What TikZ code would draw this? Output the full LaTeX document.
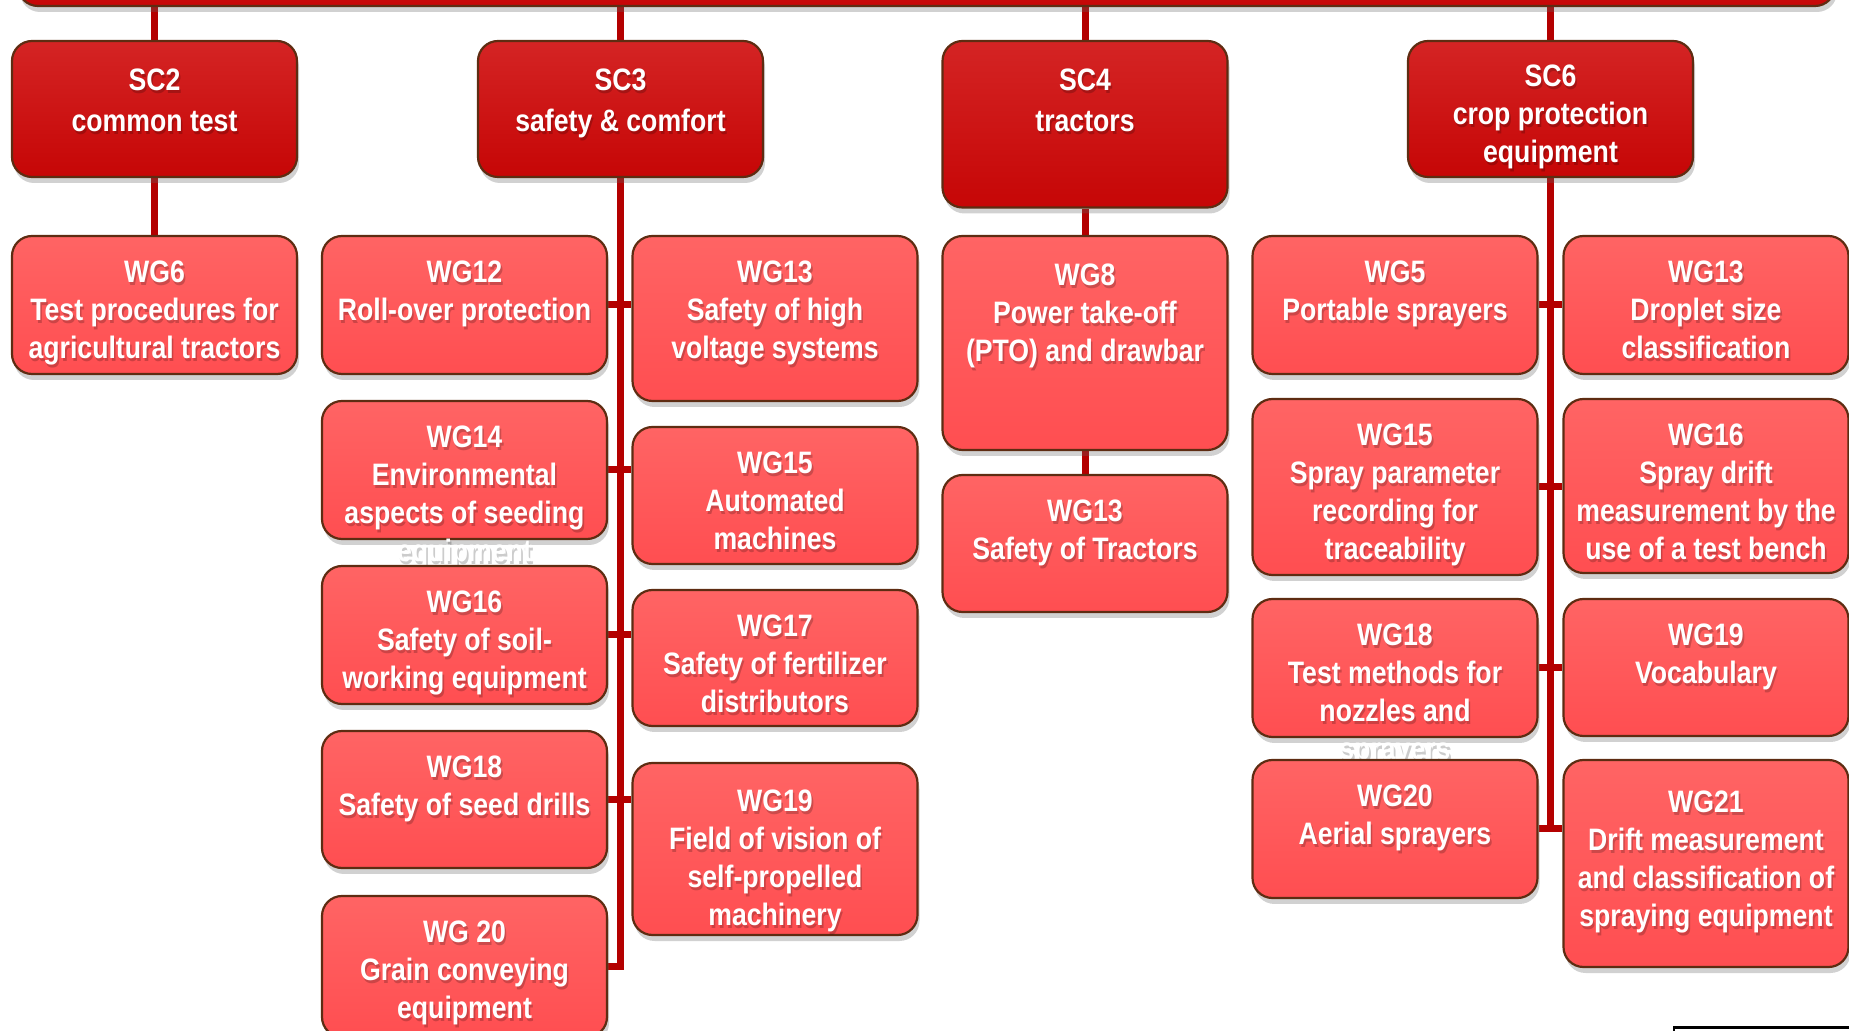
\documentclass[tikz,border=0pt]{standalone}
\usepackage{fontspec}
\setmainfont{Liberation Sans}[FakeStretch=0.86]
\usepackage{xcolor}
\usetikzlibrary{positioning, shadows, backgrounds}

\definecolor{screddark}{HTML}{C60606}
\definecolor{scredtop}{HTML}{D42424}
\definecolor{wgred}{HTML}{FF4E51}
\definecolor{wgredtop}{HTML}{FF6464}
\definecolor{rimbrown}{HTML}{5E2C12}
\definecolor{linkred}{HTML}{B40000}

% box with its text hung from the top edge
\newcommand{\orgbox}[7][13pt]{%
  \node[#2, minimum height={(#6-#5)*0.5pt}] (#3) at (#4,{(#5+#6)/2}) {};
  \node[boxshade, below=#1 of #3.north, xshift=0.8pt, yshift=-1.2pt] (#3-shade) {#7};
  \node[boxtext, below=#1 of #3.north] (#3-text) {#7};
}

\begin{document}
\begin{tikzpicture}[x=0.5pt, y=-0.5pt,
  orgbase/.style={rounded corners=10pt, draw=rimbrown, line width=1.1pt,
    minimum width=142.5pt, inner sep=0pt,
    drop shadow={shadow xshift=1pt, shadow yshift=-3pt, opacity=0.3, fill=black!60}},
  scbox/.style={orgbase, top color=scredtop, bottom color=screddark},
  wgbox/.style={orgbase, top color=wgredtop, bottom color=wgred},
  boxtext/.style={text=white, font=\fontsize{15.5}{19}\selectfont\bfseries,
    align=center, inner sep=0pt},
  boxshade/.style={boxtext, text=black, opacity=0.2},
  link/.style={draw=linkred, line width=3.5pt},
]
  \useasboundingbox (0,0) rectangle (1849,1031);
  \clip (0,0) rectangle (1849,1031);

  % top bar, cut by the page edge
  \node[scbox, minimum width=908.5pt, minimum height=40pt] (cen) at (926.5,-34) {};

  % sub-committees
  \orgbox[14.5pt]{scbox}{sc2}{154.5}{41}{177}{SC2\\[1.5pt]common test}
  \orgbox[14.5pt]{scbox}{sc3}{620.5}{41}{177}{SC3\\[1.5pt]safety \& comfort}
  \orgbox[14.5pt]{scbox}{sc4}{1085}{41}{207.5}{SC4\\[1.5pt]tractors}
  \orgbox[12.5pt]{scbox}{sc6}{1550.5}{41}{177}{SC6\\crop protection\\equipment}

  % SC2
  \orgbox{wgbox}{wg6}{154.5}{236}{374}{WG6\\Test procedures for\\agricultural tractors}

  % SC3
  \orgbox{wgbox}{wg12}{464.5}{236}{374}{WG12\\Roll-over protection}
  \orgbox{wgbox}{wg13s}{775}{236}{401}{WG13\\Safety of high\\voltage systems}
  \orgbox{wgbox}{wg14}{464.5}{401}{539}{WG14\\Environmental\\aspects of seeding\\equipment}
  \orgbox{wgbox}{wg15s}{775}{427}{564}{WG15\\Automated\\machines}
  \orgbox{wgbox}{wg16s}{464.5}{566}{704}{WG16\\Safety of soil-\\working equipment}
  \orgbox{wgbox}{wg17}{775}{590}{726}{WG17\\Safety of fertilizer\\distributors}
  \orgbox{wgbox}{wg18s}{464.5}{731}{868}{WG18\\Safety of seed drills}
  \orgbox[14pt]{wgbox}{wg19s}{775}{763}{935}{WG19\\Field of vision of\\self-propelled\\machinery}
  \orgbox{wgbox}{wg20s}{464.5}{896}{1037}{WG 20\\Grain conveying\\equipment}

  % SC4
  \orgbox[14.5pt]{wgbox}{wg8}{1085}{236}{450}{WG8\\Power take-off\\(PTO) and drawbar}
  \orgbox{wgbox}{wg13t}{1085}{475}{612}{WG13\\Safety of Tractors}

  % SC6
  \orgbox{wgbox}{wg5}{1395}{236}{374}{WG5\\Portable sprayers}
  \orgbox{wgbox}{wg13d}{1706}{236}{374}{WG13\\Droplet size\\classification}
  \orgbox{wgbox}{wg15c}{1395}{399}{575}{WG15\\Spray parameter\\recording for\\traceability}
  \orgbox{wgbox}{wg16c}{1706}{399}{573}{WG16\\Spray drift\\measurement by the\\use of a test bench}
  \orgbox{wgbox}{wg18c}{1395}{599}{737}{WG18\\Test methods for\\nozzles and\\sprayers}
  \orgbox{wgbox}{wg19c}{1706}{599}{736}{WG19\\Vocabulary}
  \orgbox{wgbox}{wg20c}{1395}{760}{898}{WG20\\Aerial sprayers}
  \orgbox[16pt]{wgbox}{wg21}{1706}{760}{967}{WG21\\Drift measurement\\and classification of\\spraying equipment}

  % connectors
  \begin{scope}[on background layer]
    \foreach \cname in {sc2,sc3,sc4,sc6}
      \draw[link] (\cname.north) -- (\cname.north |- cen.south);
    \draw[link] (sc2.south) -- (wg6.north);
    \draw[link] (sc3.south) -- (sc3.south |- wg20s.east) -- (wg20s.east);
    \foreach \lft/\rgt in {wg12/wg13s, wg14/wg15s, wg16s/wg17, wg18s/wg19s}
      \draw[link] (\lft.east) -- (\lft.east -| \rgt.west);
    \draw[link] (sc4.south) -- (wg8.north);
    \draw[link] (wg8.south) -- (wg13t.north);
    \draw[link] (sc6.south) -- (sc6.south |- wg20c.east);
    \foreach \lft/\rgt in {wg5/wg13d, wg15c/wg16c, wg18c/wg19c, wg20c/wg21}
      \draw[link] (\lft.east) -- (\lft.east -| \rgt.west);
  \end{scope}

  % edge of a frame in the lower right corner
  \draw[line width=1.2pt] (1674,1036) -- (1674,1027.5) -- (1855,1027.5);
\end{tikzpicture}
\end{document}
